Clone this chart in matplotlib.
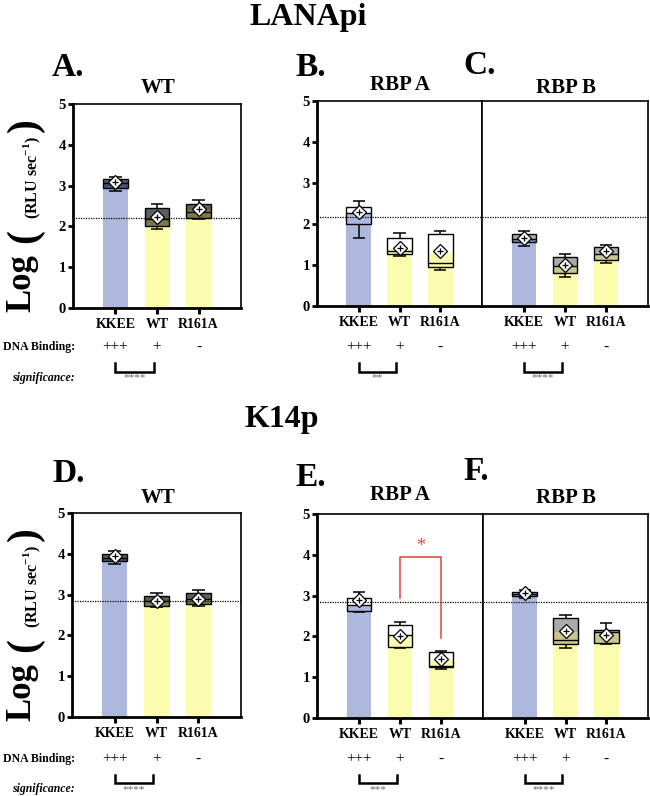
import matplotlib
matplotlib.use("Agg")
import matplotlib.pyplot as plt
from matplotlib import transforms

plt.rcParams['font.family'] = 'Liberation Serif'
plt.rcParams['font.weight'] = 'bold'
plt.rcParams['mathtext.fontset'] = 'custom'
plt.rcParams['mathtext.rm'] = 'Liberation Serif:bold'
plt.rcParams['mathtext.bf'] = 'Liberation Serif:bold'

# ---- data (log RLU/sec), one row per panel A..F, columns KKEE, WT, R161A
groups = ['KKEE', 'WT', 'R161A']
binding = ['+++', '+', '-']
panel_letters = ['A.', 'B.', 'C.', 'D.', 'E.', 'F.']
panel_titles = ['WT', 'RBP A', 'RBP B', 'WT', 'RBP A', 'RBP B']
sig_stars = ['****', '**', '****', '****', '***', '****']
ref_line = [2.20, 2.17, 2.17, 2.85, 2.84, 2.84]

whisk_lo = [[2.87, 1.94, 2.17],
            [1.67, 1.22, 0.87],
            [1.46, 0.71, 1.04],
            [3.74, 2.70, 2.72],
            [2.60, 1.71, 1.20],
            [2.94, 1.72, 1.82]]
box_lo = [[2.95, 2.02, 2.20],
          [1.99, 1.28, 0.96],
          [1.57, 0.81, 1.13],
          [3.82, 2.72, 2.78],
          [2.63, 1.73, 1.26],
          [3.00, 1.82, 1.84]]
medians = [[3.06, 2.18, 2.35],
           [2.26, 1.34, 1.06],
           [1.63, 0.97, 1.26],
           [3.90, 2.85, 2.88],
           [2.77, 2.03, 1.28],
           [3.04, 1.90, 2.10]]
box_hi = [[3.15, 2.45, 2.54],
          [2.42, 1.67, 1.76],
          [1.76, 1.20, 1.44],
          [4.00, 2.96, 3.04],
          [2.95, 2.29, 1.62],
          [3.10, 2.44, 2.16]]
whisk_hi = [[3.22, 2.56, 2.64],
            [2.55, 1.77, 1.84],
            [1.83, 1.27, 1.50],
            [4.08, 3.04, 3.12],
            [3.08, 2.36, 1.65],
            [3.14, 2.53, 2.33]]
means = [[3.09, 2.24, 2.42],
         [2.29, 1.41, 1.35],
         [1.66, 0.99, 1.34],
         [3.94, 2.84, 2.90],
         [2.88, 2.02, 1.44],
         [3.06, 2.14, 2.04]]
bar_tops = [[3.08, 2.20, 2.40],
            [2.27, 1.38, 1.30],
            [1.62, 0.97, 1.28],
            [3.90, 2.85, 2.88],
            [2.77, 2.03, 1.42],
            [3.05, 2.10, 2.10]]

# red comparison in panel E (WT vs R161A)
e_bracket_y = 3.95
e_bracket_legs = [2.95, 1.96]

# ---- styling
W, H = 650, 796
bar_colors = ['#adb8dc', '#fcfcae', '#fcfcae']
# box fill where it overlaps the bar / where it sits above the bar
dark_fill = (['#44557f', '#7d7b45', '#7d7b45'], '#5e5e5e')
light_fill = (['#7d8bb3', '#c9c88a', '#c9c88a'], '#ababab')
box_style = [dark_fill, None, light_fill, dark_fill, None, light_fill]
# axes boxes in pixels: x0, y0, x1, y1 (top-left origin)
boxes = [(73, 104, 241, 308), (317, 101, 482, 306), (482, 101, 648, 306),
         (72, 513, 241, 717), (317, 514, 483, 718), (483, 514, 648, 718)]

fig = plt.figure(figsize=(W / 100, H / 100), dpi=100)


def fx(x):
    return x / W


def fy(y):
    return 1 - y / H


axes = []
for p, (x0, y0, x1, y1) in enumerate(boxes):
    ax = fig.add_axes([fx(x0), fy(y1), (x1 - x0) / W, (y1 - y0) / H])
    axes.append(ax)
    ax.set_xlim(-1.02, 3.02)
    ax.set_ylim(0, 5)
    xs = range(len(groups))
    bw = 0.6

    for i in xs:
        ax.bar(i, bar_tops[p][i], width=bw, color=bar_colors[i], zorder=1)
        q1, q3, top = box_lo[p][i], box_hi[p][i], bar_tops[p][i]
        style = box_style[p]
        if style is not None:
            lo_top = min(q3, top)
            if lo_top > q1:
                ax.bar(i, lo_top - q1, bottom=q1, width=bw,
                       color=style[0][i], zorder=2)
            up_bot = max(q1, top)
            if q3 > up_bot:
                ax.bar(i, q3 - up_bot, bottom=up_bot, width=bw,
                       color=style[1], zorder=2)
        ax.bar(i, q3 - q1, bottom=q1, width=bw, fill=False,
               edgecolor='black', linewidth=1.0, zorder=3)
        ax.hlines(medians[p][i], i - bw / 2, i + bw / 2, color='black',
                  lw=1.0, zorder=3)
        ax.vlines(i, q3, whisk_hi[p][i], color='black', lw=1.1, zorder=3)
        ax.vlines(i, whisk_lo[p][i], q1, color='black', lw=1.1, zorder=3)
        ax.hlines([whisk_lo[p][i], whisk_hi[p][i]], i - 0.15, i + 0.15,
                  color='black', lw=1.1, zorder=3)
        ax.plot(i, means[p][i], marker='D', ms=7.5, mfc='white',
                mec='black', mew=0.9, zorder=5)
        ax.plot(i, means[p][i], marker='+', ms=5, color='black',
                mew=0.9, zorder=6)

    ax.axhline(ref_line[p], color='black', ls=(0, (1, 1)), lw=0.9, zorder=4)

    ax.set_xticks(list(xs))
    ax.set_xticklabels(groups, fontsize=10)
    ax.tick_params(axis='x', length=4.5, width=2.2, pad=3)
    for s in ['top', 'right']:
        ax.spines[s].set_linewidth(1.2)
    ax.spines['bottom'].set_linewidth(2.0)
    if p in (2, 5):
        ax.set_yticks([])
        ax.spines['left'].set_linewidth(1.2)
    else:
        ax.set_yticks(range(6))
        ax.set_yticklabels([str(v) for v in range(6)], fontsize=10.5)
        ax.tick_params(axis='y', length=3.5, width=2.0, pad=1.5)
        ax.spines['left'].set_linewidth(2.0)

    # rows under the axis
    tr = transforms.blended_transform_factory(ax.transData, fig.transFigure)
    row = 347 if p < 3 else 759
    for i in xs:
        ax.text(i, fy(row), binding[i], transform=tr, ha='center', va='center',
                fontsize=11, fontweight='normal', clip_on=False)
    yb_top, yb_bot, ys = (363, 372, 378) if p < 3 else (775, 783, 790)
    ax.plot([0, 0, 0.92, 0.92], [fy(yb_top), fy(yb_bot), fy(yb_bot), fy(yb_top)],
            transform=tr, color='black', lw=1.8, clip_on=False,
            solid_joinstyle='miter')
    ax.text(0.46, fy(ys), sig_stars[p], transform=tr, ha='center', va='center',
            fontsize=8, fontweight='normal', color='#666666', clip_on=False)

# red significance bracket in panel E
axE = axes[4]
axE.plot([1, 1, 2, 2], [e_bracket_legs[0], e_bracket_y, e_bracket_y, e_bracket_legs[1]],
         color='#e0413a', lw=1.1, zorder=4)
axE.text(1.5, e_bracket_y + 0.25, '*', color='#e0413a', ha='center',
         va='center', fontsize=13, fontweight='normal')

# panel letters and titles
letter_pos = [(52, 68), (295, 68), (463, 65), (52, 473), (295, 477), (463, 472)]
title_pos = [(158, 88), (400, 85), (566, 88), (158, 498), (400, 495), (566, 498)]
for p in range(6):
    fig.text(fx(letter_pos[p][0]), fy(letter_pos[p][1]), panel_letters[p],
             ha='left', va='center', fontsize=24)
    fig.text(fx(title_pos[p][0]), fy(title_pos[p][1]), panel_titles[p],
             ha='center', va='center', fontsize=15)

fig.text(fx(308), fy(17), 'LANApi', ha='center', va='center', fontsize=23)
fig.text(fx(282), fy(419), 'K14p', ha='center', va='center', fontsize=23)

# row labels and y labels
for dy, row, sig in [(0, 347, 378), (409, 759, 789)]:
    fig.text(fx(75), fy(row), 'DNA Binding:', ha='right', va='center', fontsize=8.5)
    fig.text(fx(75), fy(sig), 'significance:', ha='right', va='center',
             fontsize=8.5, style='italic')
    fig.text(fx(22), fy(283 + dy), 'Log', rotation=90, ha='center',
             va='center', fontsize=25)
    fig.text(fx(25), fy(236 + dy), '(', rotation=90, ha='center',
             va='center', fontsize=30)
    fig.text(fx(32), fy(178 + dy), r'(RLU sec$^{-1}$)', rotation=90,
             ha='center', va='center', fontsize=11.5)
    fig.text(fx(25), fy(125 + dy), ')', rotation=90, ha='center',
             va='center', fontsize=30)

fig.savefig('out.png', dpi=100)
